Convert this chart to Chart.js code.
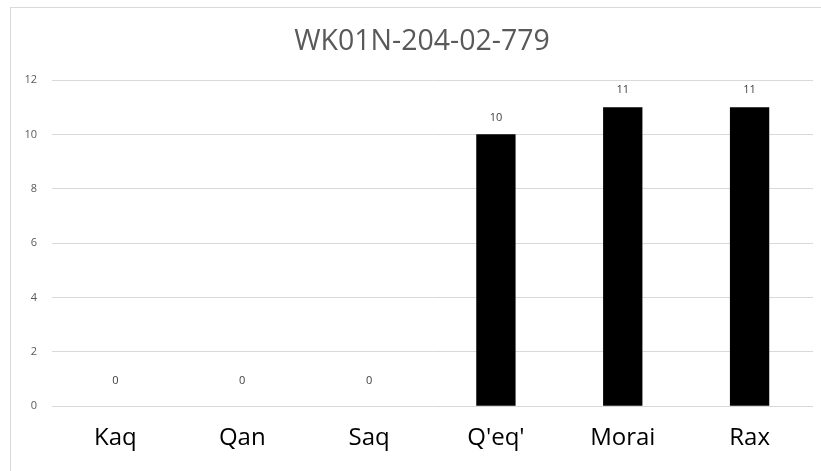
<!DOCTYPE html>
<html>
<head>
<meta charset="utf-8">
<script src="https://cdn.jsdelivr.net/npm/chart.js@4.4.1/dist/chart.umd.min.js"></script>
<style>
  html, body { margin: 0; padding: 0; background: #ffffff; }
  #wrap { position: relative; width: 821px; height: 471px; }
  #frame { position: absolute; left: 10px; top: 7px; right: -5px; bottom: -5px; border-left: 1px solid #d9d9d9; border-top: 1px solid #d9d9d9; }
  canvas { position: absolute; left: 0; top: 0; }
</style>
</head>
<body>
<div id="wrap">
  <div id="frame"></div>
  <canvas id="c" width="821" height="471"></canvas>
</div>
<script>
const chartTitle = "WK01N-204-02-779";
const categories = ["Kaq", "Qan", "Saq", "Q'eq'", "Morai", "Rax"];
const values = [0, 0, 0, 10, 11, 11];
const yTicks = [0, 2, 4, 6, 8, 10, 12];

const valueLabels = {
  id: 'valueLabels',
  afterDatasetsDraw(chart) {
    const ctx = chart.ctx;
    const meta = chart.getDatasetMeta(0);
    ctx.save();
    ctx.font = '11px "Open Sans", sans-serif';
    ctx.fillStyle = '#404040';
    ctx.textAlign = 'center';
    ctx.textBaseline = 'middle';
    meta.data.forEach((bar, i) => {
      const v = chart.data.datasets[0].data[i];
      const off = v === 0 ? 25 : 17;
      ctx.fillText(String(v), bar.x, bar.y - off);
    });
    ctx.restore();
  }
};

const titleText = {
  id: 'titleText',
  afterDraw(chart) {
    const ctx = chart.ctx;
    ctx.save();
    ctx.font = '28.5px "Open Sans", sans-serif';
    ctx.fillStyle = '#595959';
    ctx.textAlign = 'center';
    ctx.textBaseline = 'alphabetic';
    ctx.fillText(chartTitle, 422, 50);
    ctx.restore();
  }
};

new Chart(document.getElementById('c'), {
  type: 'bar',
  data: {
    labels: categories,
    datasets: [{
      data: values,
      backgroundColor: '#000000',
      borderWidth: 0,
      barPercentage: 0.62,
      categoryPercentage: 0.5
    }]
  },
  options: {
    responsive: false,
    animation: false,
    layout: { padding: { left: 0, right: 8, top: 80, bottom: 0 } },
    plugins: {
      legend: { display: false },
      tooltip: { enabled: false },
      title: { display: false }
    },
    scales: {
      x: {
        grid: { display: false, drawTicks: false },
        border: { display: false },
        ticks: {
          color: '#000000',
          font: { family: '"Open Sans", sans-serif', size: 24 },
          padding: 18
        }
      },
      y: {
        min: 0,
        max: 12,
        afterBuildTicks(scale) { scale.ticks = yTicks.map(v => ({ value: v })); },
        afterFit(scale) { scale.width = 52; },
        grid: { color: '#d9d9d9', drawTicks: false, lineWidth: 1 },
        border: { display: false },
        ticks: {
          color: '#595959',
          font: { family: '"Open Sans", sans-serif', size: 11 },
          padding: 15
        }
      }
    }
  },
  plugins: [valueLabels, titleText]
});
</script>
</body>
</html>
